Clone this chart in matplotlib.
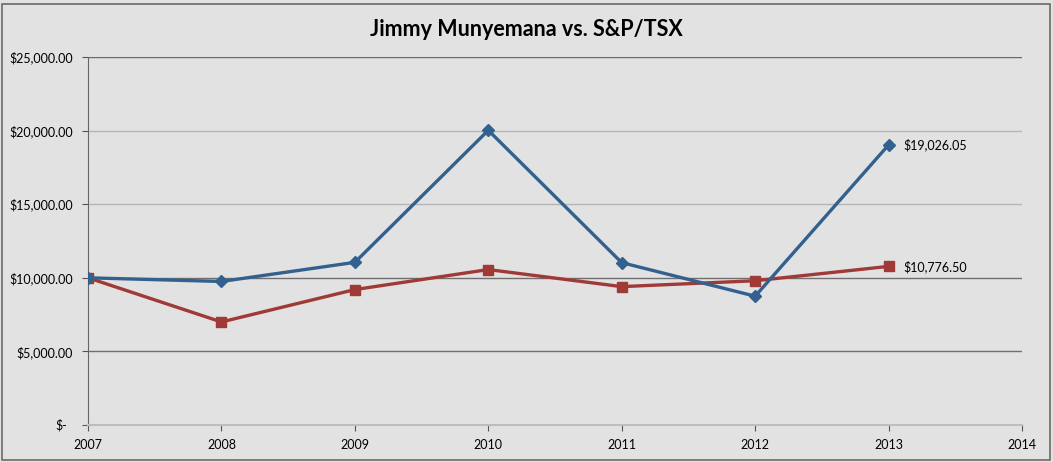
import matplotlib.pyplot as plt
from matplotlib.patches import Rectangle
from matplotlib.ticker import FuncFormatter

# ---- data ----
years = [2007, 2008, 2009, 2010, 2011, 2012, 2013]
jimmy = [10000, 9750, 11050, 20020, 11030, 8750, 19026.05]
tsx = [10000, 7000, 9200, 10560, 9400, 9800, 10776.50]
y_ticks = [0, 5000, 10000, 15000, 20000, 25000]
x_ticks = [2007, 2008, 2009, 2010, 2011, 2012, 2013, 2014]

title = "Jimmy Munyemana vs. S&P/TSX"
blue = "#33618f"
red = "#9f3a36"
bg = "#e2e2e2"

plt.rcParams['font.family'] = ['Lato', 'DejaVu Sans']

fig = plt.figure(figsize=(10.53, 4.62), dpi=100, facecolor=bg)
ax = fig.add_axes([88 / 1053, 37 / 462, 934 / 1053, 368 / 462])
ax.set_facecolor(bg)

# outer chart frame
fig.patches.append(Rectangle((2 / 1053, 2 / 462), 1048 / 1053, 456 / 462,
                             transform=fig.transFigure, fill=False,
                             edgecolor="#6a6a6a", linewidth=1.2))

ax.plot(years, jimmy, color=blue, linewidth=2.4, marker="D",
        markersize=6, markerfacecolor=blue, markeredgecolor=blue, zorder=4)
ax.plot(years, tsx, color=red, linewidth=2.4, marker="s",
        markersize=7, markerfacecolor=red, markeredgecolor=red, zorder=3)

# end labels
ax.annotate(f"${jimmy[-1]:,.2f}", (years[-1], jimmy[-1]), xytext=(11, 0),
            textcoords="offset points", va="center", ha="left", fontsize=9)
ax.annotate(f"${tsx[-1]:,.2f}", (years[-1], tsx[-1]), xytext=(11, 0),
            textcoords="offset points", va="center", ha="left", fontsize=9)

ax.set_xlim(2007, 2014)
ax.set_ylim(0, 25000)
ax.set_xticks(x_ticks)
ax.set_yticks(y_ticks)


def money(v, pos):
    if v == 0:
        return ""
    return f"${v:,.2f}"


ax.yaxis.set_major_formatter(FuncFormatter(money))
ax.tick_params(axis="y", direction="out", length=4, color="#555555",
               labelsize=9, pad=7)
ax.tick_params(axis="x", direction="out", length=4, color="#555555",
               labelsize=9, pad=6)
# zero shown accounting-style, a bit left of the other labels' right edge
ax.annotate("$-", (0, 0), xycoords=("axes fraction", "data"),
            xytext=(-15, 0), textcoords="offset points",
            ha="right", va="center", fontsize=9)

ax.grid(axis="y", color="#6f6f6f", linewidth=1.0)
ax.set_axisbelow(True)
grid_cols = ["#bdbdbd", "#6f6f6f", "#6f6f6f", "#b5b5b5", "#b5b5b5", "#6a6a6a"]
for line, c in zip(ax.yaxis.get_gridlines(), grid_cols):
    line.set_color(c)

for side in ["top", "right"]:
    ax.spines[side].set_visible(False)
ax.spines["left"].set_color("#666666")
ax.spines["bottom"].set_color("#bdbdbd")
ax.spines["bottom"].set_linewidth(1.5)

fig.text(0.5, 1 - 29 / 462, title, ha="center", va="center",
         fontsize=15.5, fontweight="bold")

fig.savefig("out.png", dpi=100, facecolor=bg)
